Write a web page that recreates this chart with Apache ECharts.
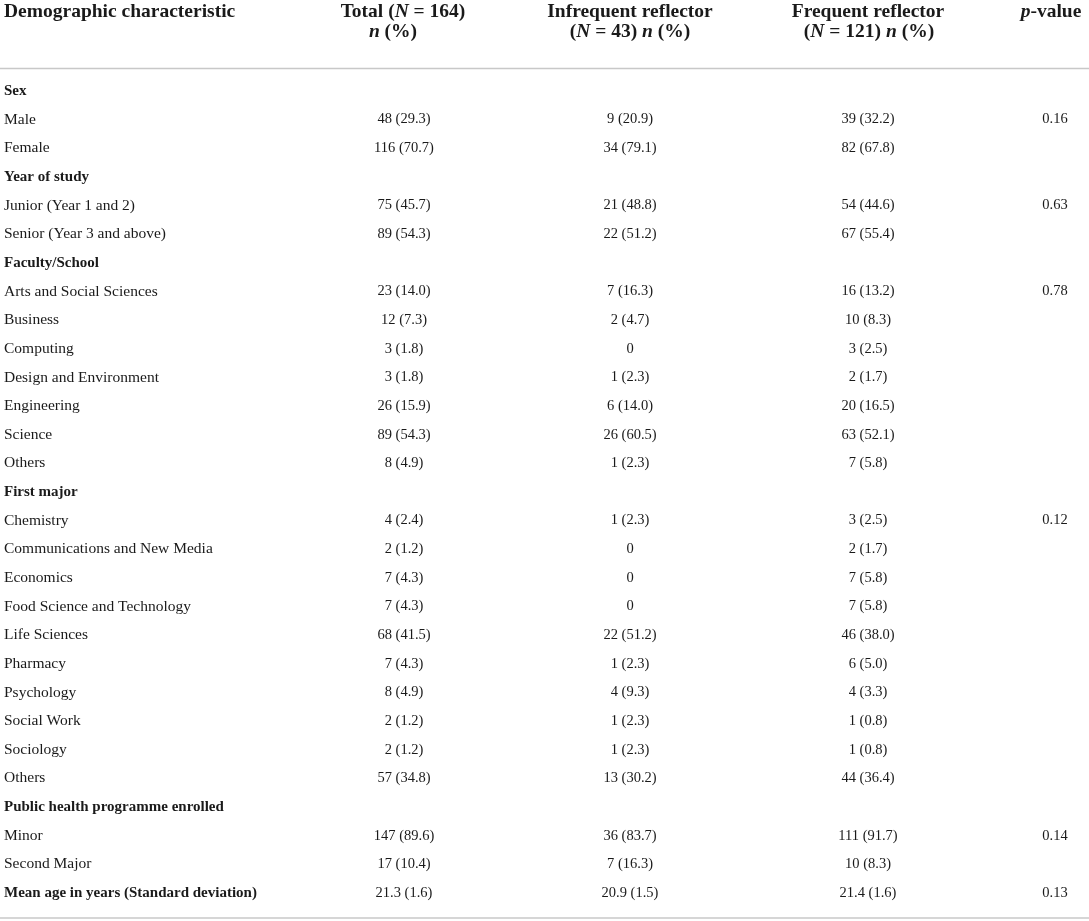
<!DOCTYPE html>
<html>
<head>
<meta charset="utf-8">
<script src="https://cdn.jsdelivr.net/npm/echarts@6/dist/echarts.min.js"></script>
<style>html,body{margin:0;padding:0;background:#fff}#c{width:1089px;height:921px}</style>
</head>
<body>
<div id="c"></div>
<script>
// ---- table data ----
const rowLabels = [
  'Sex', 'Male', 'Female',
  'Year of study', 'Junior (Year 1 and 2)', 'Senior (Year 3 and above)',
  'Faculty/School', 'Arts and Social Sciences', 'Business', 'Computing', 'Design and Environment', 'Engineering', 'Science', 'Others',
  'First major', 'Chemistry', 'Communications and New Media', 'Economics', 'Food Science and Technology', 'Life Sciences', 'Pharmacy', 'Psychology', 'Social Work', 'Sociology', 'Others',
  'Public health programme enrolled', 'Minor', 'Second Major',
  'Mean age in years (Standard deviation)'
];
const sectionRows = ['Sex', 'Year of study', 'Faculty/School', 'First major', 'Public health programme enrolled', 'Mean age in years (Standard deviation)'];
const totalCol = [
  '', '48 (29.3)', '116 (70.7)',
  '', '75 (45.7)', '89 (54.3)',
  '', '23 (14.0)', '12 (7.3)', '3 (1.8)', '3 (1.8)', '26 (15.9)', '89 (54.3)', '8 (4.9)',
  '', '4 (2.4)', '2 (1.2)', '7 (4.3)', '7 (4.3)', '68 (41.5)', '7 (4.3)', '8 (4.9)', '2 (1.2)', '2 (1.2)', '57 (34.8)',
  '', '147 (89.6)', '17 (10.4)',
  '21.3 (1.6)'
];
const infrequentCol = [
  '', '9 (20.9)', '34 (79.1)',
  '', '21 (48.8)', '22 (51.2)',
  '', '7 (16.3)', '2 (4.7)', '0', '1 (2.3)', '6 (14.0)', '26 (60.5)', '1 (2.3)',
  '', '1 (2.3)', '0', '0', '0', '22 (51.2)', '1 (2.3)', '4 (9.3)', '1 (2.3)', '1 (2.3)', '13 (30.2)',
  '', '36 (83.7)', '7 (16.3)',
  '20.9 (1.5)'
];
const frequentCol = [
  '', '39 (32.2)', '82 (67.8)',
  '', '54 (44.6)', '67 (55.4)',
  '', '16 (13.2)', '10 (8.3)', '3 (2.5)', '2 (1.7)', '20 (16.5)', '63 (52.1)', '7 (5.8)',
  '', '3 (2.5)', '2 (1.7)', '7 (5.8)', '7 (5.8)', '46 (38.0)', '6 (5.0)', '4 (3.3)', '1 (0.8)', '1 (0.8)', '44 (36.4)',
  '', '111 (91.7)', '10 (8.3)',
  '21.4 (1.6)'
];
const pValueCol = [
  '', '0.16', '',
  '', '0.63', '',
  '', '0.78', '', '', '', '', '', '',
  '', '0.12', '', '', '', '', '', '', '', '', '',
  '', '0.14', '',
  '0.13'
];

// ---- layout (not data) ----
const FONT = '"Liberation Serif", "Times New Roman", serif';
const TEXT = '#1a1a1a';
const LINE = '#c8c8c8';
const colCenters = [404, 630, 868, 1055];
const labelX = 4;

const chart = echarts.init(document.getElementById('c'));
const columns = [totalCol, infrequentCol, frequentCol, pValueCol];

const HFS = 19.5;
const hb = { fontFamily: FONT, fontWeight: 'bold', fontSize: HFS, color: TEXT };
const hbi = { fontFamily: FONT, fontWeight: 'bold', fontStyle: 'italic', fontSize: HFS, color: TEXT };

function headerText(x, y, text, align) {
  return {
    type: 'text', x: x, y: y,
    style: { text: text, align: align || 'center', verticalAlign: 'middle', rich: { b: hb, i: hbi }, fontFamily: FONT, fontSize: HFS, fontWeight: 'bold', fill: TEXT }
  };
}

chart.setOption({
  animation: false,
  grid: { left: 0, right: 0, top: 76.7, bottom: 13.7 },
  xAxis: { type: 'value', min: 0, max: 1089, show: false },
  yAxis: { type: 'category', data: rowLabels, inverse: true, show: false },
  graphic: [
    headerText(labelX, 12, '{b|Demographic characteristic}', 'left'),
    headerText(403, 12, '{b|Total (}{i|N}{b| = 164)}'),
    headerText(393, 32, '{i|n}{b| (%)}'),
    headerText(630, 12, '{b|Infrequent reflector}'),
    headerText(630, 32, '{b|(}{i|N}{b| = 43) }{i|n}{b| (%)}'),
    headerText(868, 12, '{b|Frequent reflector}'),
    headerText(869, 32, '{b|(}{i|N}{b| = 121) }{i|n}{b| (%)}'),
    headerText(1051, 12, '{i|p}{b|-value}'),
    { type: 'line', shape: { x1: 0, y1: 68.5, x2: 1089, y2: 68.5 }, style: { stroke: LINE, lineWidth: 1.5 } },
    { type: 'line', shape: { x1: 0, y1: 918, x2: 1089, y2: 918 }, style: { stroke: LINE, lineWidth: 1.5 } }
  ],
  series: [{
    type: 'custom',
    coordinateSystem: 'cartesian2d',
    data: rowLabels.map((label, i) => [0, i]),
    encode: { x: 0, y: 1 },
    renderItem: function (params, api) {
      const i = api.value(1);
      const y = api.coord([0, i])[1];
      const isSection = sectionRows.indexOf(rowLabels[i]) >= 0;
      const children = [{
        type: 'text',
        style: {
          text: rowLabels[i], x: api.coord([labelX, i])[0], y: y,
          align: 'left', verticalAlign: 'middle',
          fontFamily: FONT, fontSize: isSection ? 15 : 15.5, fontWeight: isSection ? 'bold' : 'normal', fill: TEXT
        }
      }];
      columns.forEach(function (col, c) {
        if (!col[i]) return;
        children.push({
          type: 'text',
          style: {
            text: col[i], x: api.coord([colCenters[c], i])[0], y: y,
            align: 'center', verticalAlign: 'middle',
            fontFamily: FONT, fontSize: 14.5, fill: TEXT
          }
        });
      });
      return { type: 'group', children: children };
    }
  }]
});
</script>
</body>
</html>
